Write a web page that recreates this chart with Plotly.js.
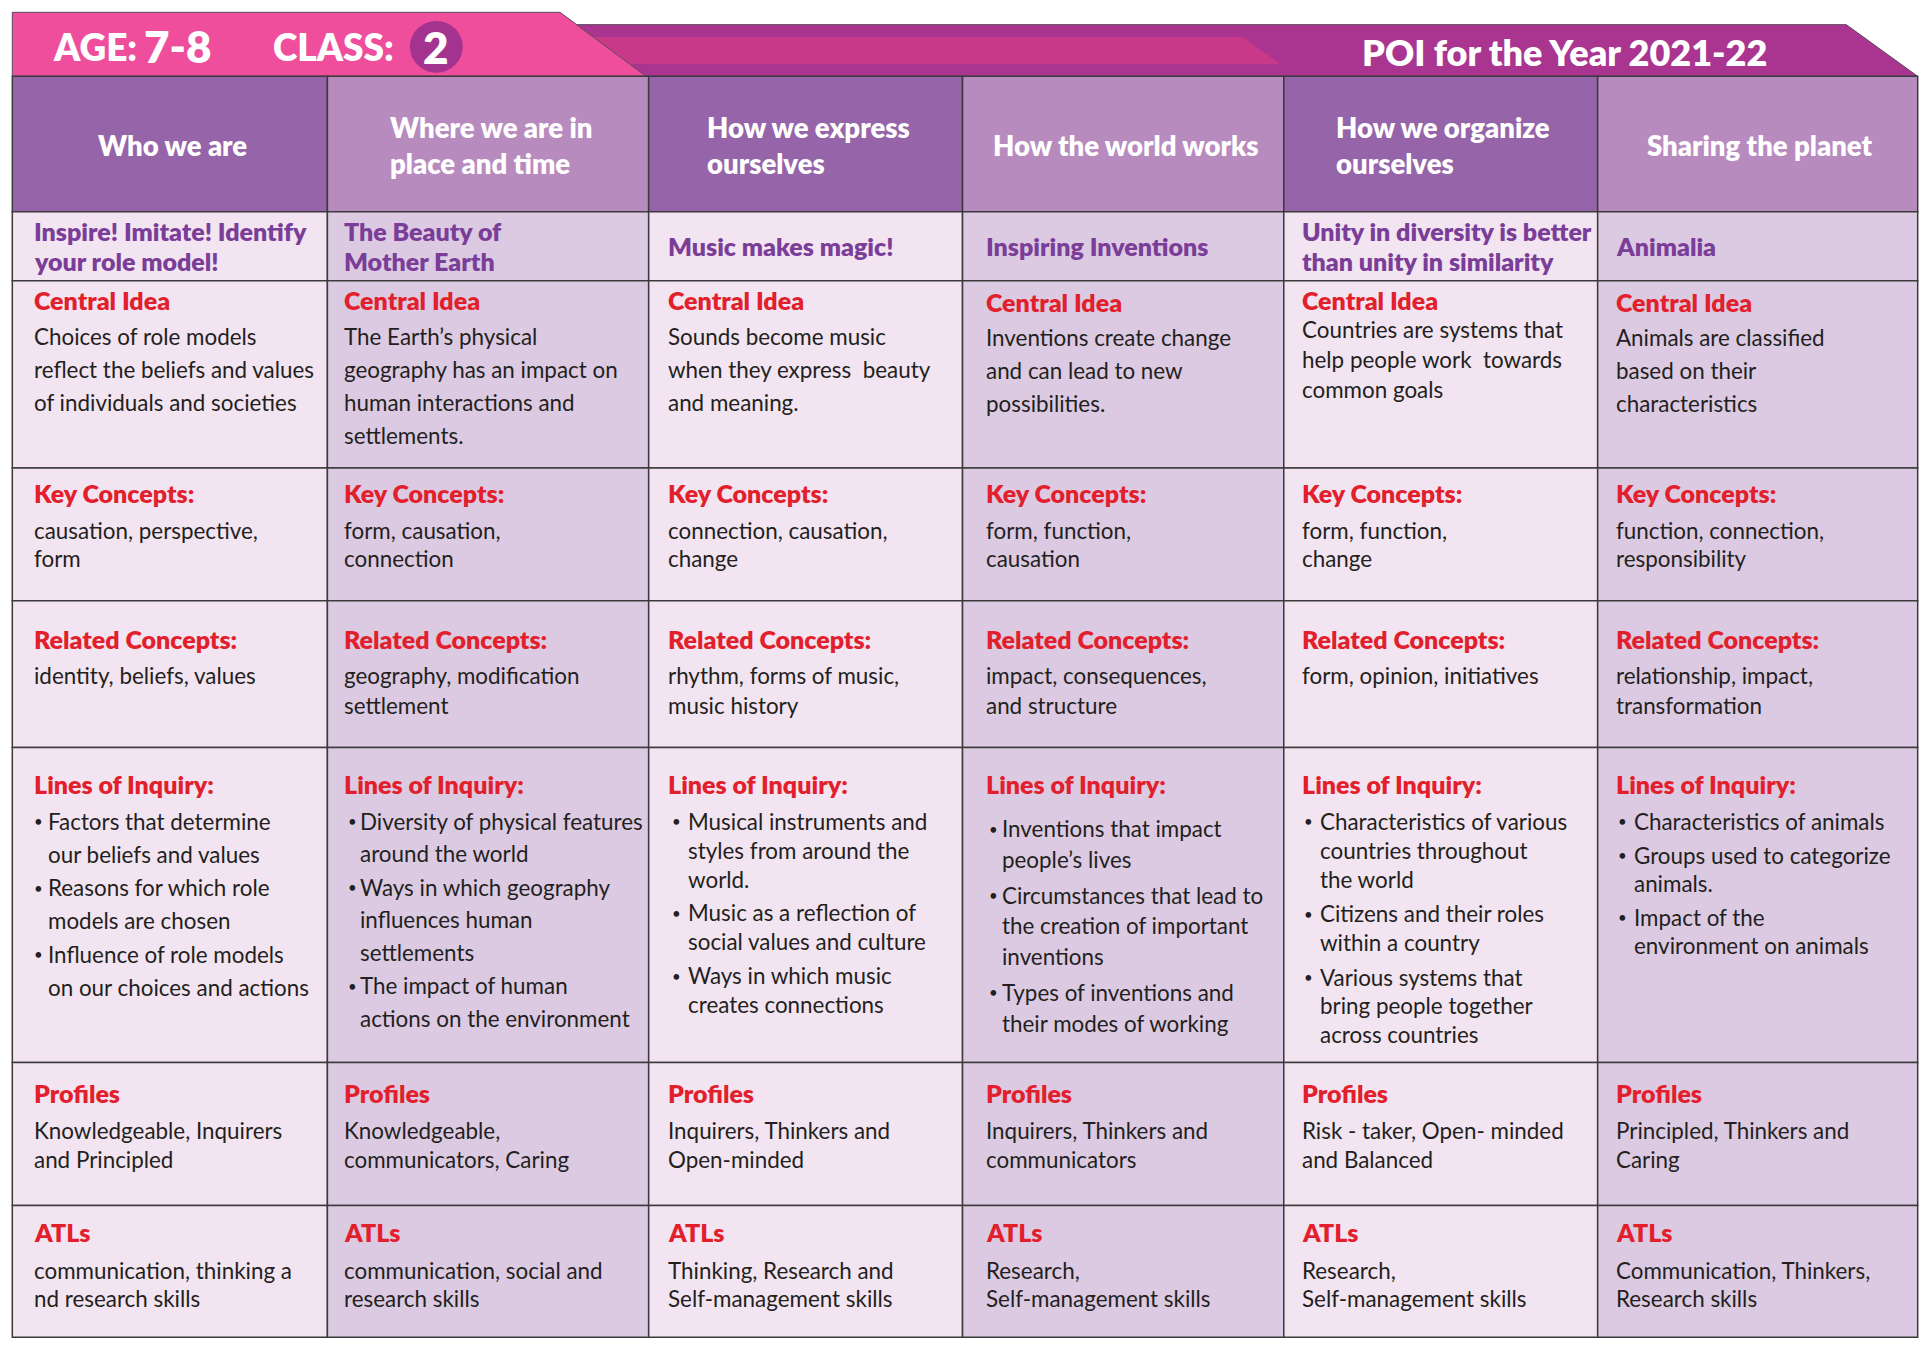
<!DOCTYPE html>
<html><head><meta charset="utf-8">
<script src="https://cdn.plot.ly/plotly-3.0.1.min.js"></script>
<style>html,body{margin:0;padding:0;background:#fff}</style>
</head><body><div id="chart" style="width:1930px;height:1347px"></div>
<script>
// ---------------- DATA ----------------
const ageLabel = "AGE:";
const ageValue = "7-8";
const classLabel = "CLASS:";
const classValue = "2";
const yearTitle = "POI for the Year 2021-22";

const themeHeaders = [
  "Who we are",
  "Where we are in<br>place and time",
  "How we express<br>ourselves",
  "How the world works",
  "How we organize<br>ourselves",
  "Sharing the planet"
];

const unitTitles = [
  ["Inspire! Imitate! Identify", "your role model!"],
  ["The Beauty of", "Mother Earth"],
  ["Music makes magic!"],
  ["Inspiring Inventions"],
  ["Unity in diversity is better", "than unity in similarity"],
  ["Animalia"]
];

const sectionLabels = ["Central Idea", "Key Concepts:", "Related Concepts:", "Lines of Inquiry:", "Profiles", "ATLs"];

const centralIdeas = [
  ["Choices of role models", "reflect the beliefs and values", "of individuals and societies"],
  ["The Earth\u2019s physical", "geography has an impact on", "human interactions and", "settlements."],
  ["Sounds become music", "when they express  beauty", "and meaning."],
  ["Inventions create change", "and can lead to new", "possibilities."],
  ["Countries are systems that", "help people work  towards", "common goals"],
  ["Animals are classified", "based on their", "characteristics"]
];

const keyConcepts = [
  ["causation, perspective,", "form"],
  ["form, causation,", "connection"],
  ["connection, causation,", "change"],
  ["form, function,", "causation"],
  ["form, function,", "change"],
  ["function, connection,", "responsibility"]
];

const relatedConcepts = [
  ["identity, beliefs, values"],
  ["geography, modification", "settlement"],
  ["rhythm, forms of music,", "music history"],
  ["impact, consequences,", "and structure"],
  ["form, opinion, initiatives"],
  ["relationship, impact,", "transformation"]
];

const linesOfInquiry = [
  [["Factors that determine", "our beliefs and values"], ["Reasons for which role", "models are chosen"], ["Influence of role models", "on our choices and actions"]],
  [["Diversity of physical features", "around the world"], ["Ways in which geography", "influences human", "settlements"], ["The impact of human", "actions on the environment"]],
  [["Musical instruments and", "styles from around the", "world."], ["Music as a reflection of", "social values and culture"], ["Ways in which music", "creates connections"]],
  [["Inventions that impact", "people\u2019s lives"], ["Circumstances that lead to", "the creation of important", "inventions"], ["Types of inventions and", "their modes of working"]],
  [["Characteristics of various", "countries throughout", "the world"], ["Citizens and their roles", "within a country"], ["Various systems that", "bring people together", "across countries"]],
  [["Characteristics of animals"], ["Groups used to categorize", "animals."], ["Impact of the", "environment on animals"]]
];

const profiles = [
  ["Knowledgeable, Inquirers", "and Principled"],
  ["Knowledgeable,", "communicators, Caring"],
  ["Inquirers, Thinkers and", "Open-minded"],
  ["Inquirers, Thinkers and", "communicators"],
  ["Risk - taker, Open- minded", "and Balanced"],
  ["Principled, Thinkers and", "Caring"]
];

const atls = [
  ["communication, thinking a", "nd research skills"],
  ["communication, social and", "research skills"],
  ["Thinking, Research and", "Self-management skills"],
  ["Research,", "Self-management skills"],
  ["Research,", "Self-management skills"],
  ["Communication, Thinkers,", "Research skills"]
];

// ---------------- LAYOUT / STYLE ----------------
const W = 1568, H = 1094;             // axis units (reference grid)
const colEdges = [10, 266, 527, 782, 1043, 1298, 1558];
const rowEdges = [62, 172, 228, 380, 488, 607, 863, 979, 1086];
const textDx = [17, 13, 15, 18, 14, 14];
const bulletDx = [17, 16, 18, 21, 16, 16];
const itemDx = [28, 26, 31, 31, 29, 29];

const FONT = "Lato, 'Open Sans', sans-serif";
const C = {
  pink: "#ee4e9b", purple: "#a93590", stripe: "#c9398a", circle: "#a3338f",
  headDark: "#9664a9", headLight: "#b88bbf",
  bodyLight: "#f2e4f0", bodyDark: "#dccae2",
  grid: "#3c3a3d", theme: "#7a3d98", red: "#e21f2d", text: "#231f20"
};
const SZ = { body: 22.4, label: 25, theme: 25, header: 27.5 };
const HEAVY = 800;

// per-section vertical layout: label offset, first line offset, line spacing (from row top)
const secLayout = [
  { label: [16,16,16,17,16,17], first: [45,45,45,46,40,46], step: [27,27,27,27,24,27] },
  { label: 20, first: 51, step: 23 },
  { label: 31, first: 61, step: 24 },
  { label: 30 },
  { label: 25, first: 55, step: 24 },
  { label: 22, first: 53, step: 23 }
];
const loiFirst = [60, 60, 60, 66, 60, 60];
const loiCont = [27, 26.5, 23.5, 25, 23.5, 23];
const loiGap = [27, 27, 27.5, 29, 28, 27.5];

const pick = (v, c) => Array.isArray(v) ? v[c] : v;

const shapes = [];
const annotations = [];

function txt(x, y, text, size, color, weight, xanchor, align) {
  annotations.push({
    x: x, y: y, xref: "x", yref: "y", text: text,
    showarrow: false, xanchor: xanchor || "left", yanchor: "middle", align: align || "left",
    borderpad: 0, font: { family: FONT, size: size, color: color, weight: weight || 400 }
  });
}

// ---- banner ----
shapes.push({ type: "path", xref: "x", yref: "y",
  path: "M 440 20 L 1500 20 L 1558 62 L 440 62 Z",
  fillcolor: C.purple, line: { color: "#5a4a5a", width: 1 } });
shapes.push({ type: "path", xref: "x", yref: "y",
  path: "M 470 30 L 1010 30 L 1040 52 L 470 52 Z",
  fillcolor: C.stripe, line: { width: 0 } });
shapes.push({ type: "path", xref: "x", yref: "y",
  path: "M 10 10 L 455 10 L 525 62 L 10 62 Z",
  fillcolor: C.pink, line: { color: "#5a4a5a", width: 1 } });
shapes.push({ type: "circle", xref: "x", yref: "y", x0: 333, x1: 376, y0: 17, y1: 59,
  fillcolor: C.circle, line: { width: 0 } });

txt(42, 38, ageLabel, 37, "#ffffff", HEAVY);
txt(116, 37, ageValue, 44, "#ffffff", HEAVY);
txt(221, 38, classLabel, 37, "#ffffff", HEAVY);
txt(354.5, 38, classValue, 44, "#ffffff", HEAVY, "center", "center");
txt(1106, 42, yearTitle, 36, "#ffffff", HEAVY);

// ---- cells ----
for (let c = 0; c < 6; c++) {
  const x0 = colEdges[c], x1 = colEdges[c + 1];
  for (let r = 0; r < rowEdges.length - 1; r++) {
    let fill;
    if (r === 0) fill = c % 2 === 0 ? C.headDark : C.headLight;
    else fill = c % 2 === 0 ? C.bodyLight : C.bodyDark;
    shapes.push({ type: "rect", xref: "x", yref: "y", x0: x0, x1: x1, y0: rowEdges[r], y1: rowEdges[r + 1],
      fillcolor: fill, line: { color: C.grid, width: 1.5 } });
  }
  // header
  txt((x0 + x1) / 2 + 2, 118, themeHeaders[c], SZ.header, "#ffffff", HEAVY, "center", "left");
  // unit title
  const tl = unitTitles[c];
  const tMid = 200;
  tl.forEach((line, j) => {
    txt(x0 + textDx[c], tMid + (j - (tl.length - 1) / 2) * 24.5, line, SZ.theme, C.theme, HEAVY);
  });
  // sections
  const secData = [centralIdeas, keyConcepts, relatedConcepts, null, profiles, atls];
  for (let s = 0; s < 6; s++) {
    const top = rowEdges[s + 2];
    const L = secLayout[s];
    txt(x0 + textDx[c], top + pick(L.label, c), sectionLabels[s], SZ.label, C.red, HEAVY);
    if (s === 3) {
      let y = top + loiFirst[c];
      linesOfInquiry[c].forEach((item, i) => {
        if (i > 0) y += loiGap[c];
        txt(x0 + bulletDx[c], y, "\u2022", 15, C.text, 400);
        item.forEach((line, j) => {
          if (j > 0) y += loiCont[c];
          txt(x0 + itemDx[c], y, line, SZ.body, C.text, 400);
        });
      });
    } else {
      const lines = secData[s][c];
      lines.forEach((line, j) => {
        txt(x0 + textDx[c], top + pick(L.first, c) + j * pick(L.step, c), line, SZ.body, C.text, 400);
      });
    }
  }
}

const layout = {
  width: 1930, height: 1347,
  margin: { l: 0, r: 0, t: 0, b: 0, pad: 0 },
  paper_bgcolor: "#ffffff", plot_bgcolor: "#ffffff",
  xaxis: { range: [0, W], visible: false, fixedrange: true, showgrid: false, zeroline: false },
  yaxis: { range: [H, 0], visible: false, fixedrange: true, showgrid: false, zeroline: false },
  showlegend: false, hovermode: false,
  shapes: shapes, annotations: annotations
};

Plotly.newPlot("chart", [{ x: [], y: [], type: "scatter", mode: "markers", hoverinfo: "skip" }], layout,
  { staticPlot: true, displayModeBar: false });
</script></body></html>
